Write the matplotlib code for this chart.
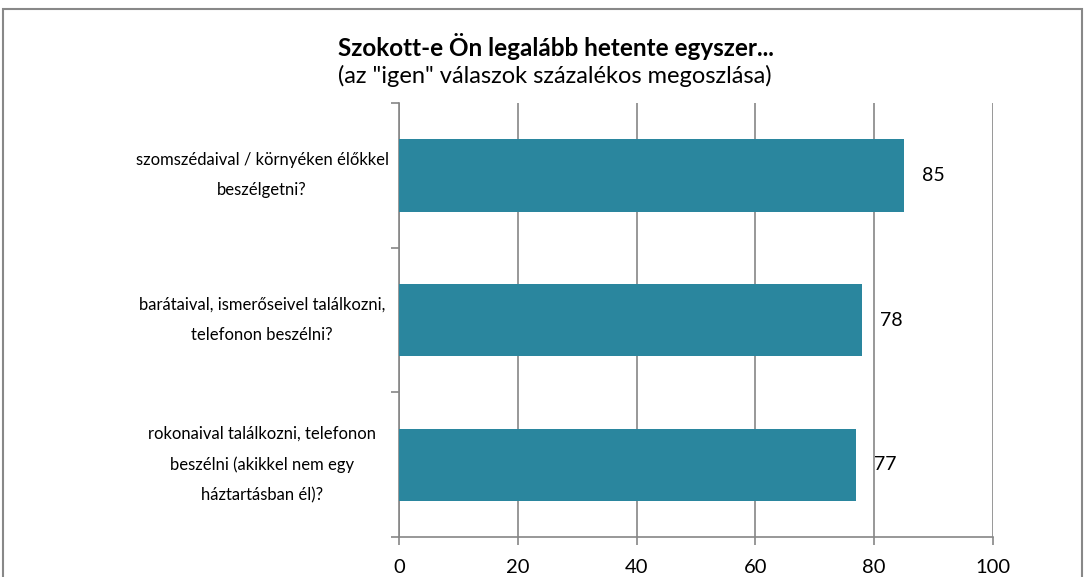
import matplotlib
matplotlib.use('Agg')
import matplotlib.pyplot as plt
import matplotlib.patheffects as pe
from matplotlib.patches import Rectangle

# data
categories = ['szomszédaival / környéken élőkkel\nbeszélgetni?',
              'barátaival, ismerőseivel találkozni,\ntelefonon beszélni?',
              'rokonaival találkozni, telefonon\nbeszélni (akikkel nem egy\nháztartásban él)?']
values = [85, 78, 77]
xticks = [0, 20, 40, 60, 80, 100]

plt.rcParams['font.family'] = ['Lato', 'DejaVu Sans']

fig = plt.figure(figsize=(10.85, 5.77), dpi=100)
ax = fig.add_axes([399/1085, 1-537/577, 594/1085, 434/577])

pos = [2, 1, 0]
ax.barh(pos, values, height=0.5, color='#2A869E', zorder=3,
        path_effects=[pe.SimpleLineShadow(offset=(2, -2), shadow_color='#999999', alpha=0.6),
                      pe.Normal()])
for p, v in zip(pos, values):
    ax.text(v + 3, p, str(v), va='center', ha='left', fontsize=14, color='black')

ax.set_xlim(0, 100)
ax.set_ylim(-0.5, 2.5)
ax.set_xticks(xticks)
ax.set_xticklabels([str(t) for t in xticks], fontsize=14.5)
ax.set_yticks([-0.5, 0.5, 1.5, 2.5])
ax.set_yticklabels([])
ax.tick_params(axis='x', length=6, color='#868686', width=1.2, pad=10)
ax.tick_params(axis='y', length=6, color='#868686', width=1.2)

# category labels, centred to the left of the axis
for p, lab in zip(pos, categories):
    ax.annotate(lab, xy=(0, p), xycoords=('axes fraction', 'data'),
                xytext=(-137, 0), textcoords='offset pixels',
                ha='center', va='center', fontsize=12, linespacing=2.1,
                multialignment='center')

ax.grid(axis='x', color='#868686', linewidth=1.2, zorder=0)
for s in ['top', 'right']:
    ax.spines[s].set_visible(False)
for s in ['left', 'bottom']:
    ax.spines[s].set_color('#868686')
    ax.spines[s].set_linewidth(1.2)

fig.text(0.5 + 13/1085, 1-46/577, 'Szokott-e Ön legalább hetente egyszer...', ha='center', va='center',
         fontsize=17.5, fontweight='bold')
fig.text(0.5 + 12/1085, 1-76/577, '(az "igen" válaszok százalékos megoszlása)', ha='center', va='center',
         fontsize=17)

fig.patches.append(Rectangle((3/1085, -0.05), 1079/1085, 1-9/577+0.05, transform=fig.transFigure,
                             fill=False, edgecolor='#888888', linewidth=1.5))

plt.savefig('out.png', dpi=100)
